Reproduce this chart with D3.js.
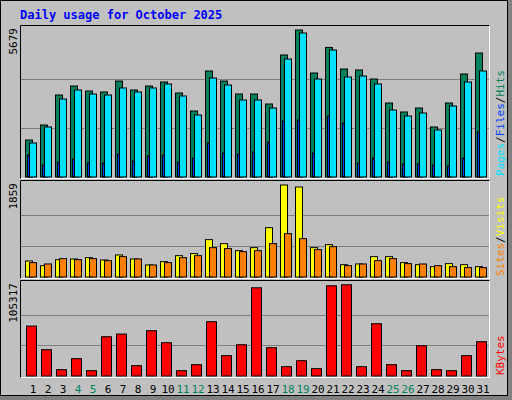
<!DOCTYPE html>
<html>
<head>
<meta charset="utf-8">
<script src="https://cdn.jsdelivr.net/npm/d3@7"></script>
<style>
  body { margin: 0; background: #fff; }
  svg text { font-family: "DejaVu Sans Mono", monospace; }
</style>
</head>
<body>
<svg id="chart"></svg>
<script>
const days = d3.range(1, 32);
const weekend = [4, 5, 11, 12, 18, 19, 25, 26];
const hits = [1429, 2009, 3168, 3515, 3322, 3284, 3708, 3361, 3515, 3670, 3245, 2550, 4095, 3708, 3206, 3206, 2820, 4713, 5679, 4018, 5006, 4172, 4134, 3786, 2859, 2511, 2665, 1932, 2859, 3979, 4790];
const pages = [1313, 1932, 3013, 3361, 3206, 3168, 3438, 3284, 3438, 3593, 3129, 2395, 3824, 3554, 2975, 2975, 2665, 4558, 5563, 3786, 4906, 3863, 3902, 3593, 2588, 2356, 2472, 1816, 2743, 3670, 4095];
const files = [850, 464, 579, 695, 541, 541, 888, 618, 811, 850, 579, 734, 1313, 927, 888, 966, 1352, 2163, 2202, 927, 2356, 2086, 541, 734, 579, 502, 502, 464, 425, 734, 1738];
const visits = [323, 229, 350, 364, 391, 344, 445, 364, 243, 310, 431, 472, 755, 674, 532, 593, 997, 1859, 1819, 593, 654, 249, 263, 411, 411, 290, 249, 209, 270, 249, 209];
const sites = [290, 263, 371, 350, 371, 330, 411, 364, 243, 290, 391, 431, 593, 573, 512, 532, 674, 876, 775, 553, 613, 229, 263, 330, 371, 270, 263, 229, 209, 189, 189];
const kbytes = [57660, 30370, 7300, 19990, 6150, 45360, 48430, 11920, 52280, 38440, 6150, 13070, 62660, 23450, 36130, 101860, 32670, 10760, 17680, 8460, 104170, 105317, 10760, 60350, 13070, 6150, 34980, 7300, 6150, 23450, 39590];

const w = 512, h = 400;
const svg = d3.select("#chart").attr("width", w).attr("height", h);

// frame
svg.append("rect").attr("x", 0).attr("y", 0).attr("width", w).attr("height", h).attr("fill", "#808080");
svg.append("rect").attr("x", 0.5).attr("y", 0.5).attr("width", 507).attr("height", 395)
  .attr("fill", "#c0c0c0").attr("stroke", "#000");
svg.append("text").attr("x", 20).attr("y", 19).attr("fill", "#0000ff")
  .attr("font-size", 12).attr("font-weight", "bold").text("Daily usage for October 2025");

const x = d3.scaleBand().domain(days).range([25, 490]);

const panels = [
  { top: 25, bottom: 179, y: d3.scaleLinear().domain([0, 5679]).range([176.5, 29.5]), max: 5679 },
  { top: 180, bottom: 279, y: d3.scaleLinear().domain([0, 1859]).range([276.5, 184.5]), max: 1859 },
  { top: 280, bottom: 378, y: d3.scaleLinear().domain([0, 105317]).range([375.5, 284.3]), max: 105317 }
];

panels.forEach((p) => {
  svg.append("rect").attr("x", 20.5).attr("y", p.top + 0.5).attr("width", 469).attr("height", p.bottom - p.top - 1)
    .attr("fill", "#c0c0c0").attr("stroke", "#fff");
  svg.append("path").attr("d", `M20.5,${p.bottom - 0.5}V${p.top + 0.5}H489.5`).attr("fill", "none").attr("stroke", "#000");
  [p.max / 3, p.max * 2 / 3].forEach((v) => {
    svg.append("line").attr("x1", 21).attr("x2", 489).attr("y1", Math.round(p.y(v)) + 0.5).attr("y2", Math.round(p.y(v)) + 0.5)
      .attr("stroke", "#808080");
  });
  svg.append("text").attr("transform", `translate(17,${p.top + 3}) rotate(-90)`).attr("text-anchor", "end")
    .attr("font-size", 11).attr("fill", "#000").text(p.max);
});

function bars(data, y, dx, bw, color) {
  svg.append("g").selectAll("rect").data(data).enter().append("rect")
    .attr("x", (d, i) => x(days[i]) + dx + 0.5)
    .attr("y", (d) => y(d) + 0.5)
    .attr("width", bw)
    .attr("height", (d) => y(0) - y(d))
    .attr("fill", color).attr("stroke", "#000");
}
bars(hits, panels[0].y, 0, 7, "#00805c");
bars(pages, panels[0].y, 4, 7, "#00e0ff");
bars(files, panels[0].y, 2, 2, "#0040ff");
bars(visits, panels[1].y, 0, 7, "#ffff00");
bars(sites, panels[1].y, 4, 7, "#ff8000");
bars(kbytes, panels[2].y, 1, 10, "#ff0000");

// day labels
svg.append("g").selectAll("text").data(days).enter().append("text")
  .attr("x", (d) => x(d) + 8).attr("y", 393).attr("text-anchor", "middle").attr("font-size", 11)
  .attr("font-family", "DejaVu Sans")
  .attr("fill", (d) => weekend.includes(d) ? "#00805c" : "#000").text((d) => d);

// right legends
function legend(yBottom, parts) {
  const t = svg.append("text").attr("transform", `translate(504,${yBottom}) rotate(-90)`).attr("font-size", 11);
  parts.forEach(([s, c]) => t.append("tspan").attr("fill", c).text(s));
}
legend(176, [["Pages", "#00e0ff"], ["/", "#000"], ["Files", "#0040ff"], ["/", "#000"], ["Hits", "#00805c"]]);
legend(276, [["Sites", "#ff8000"], ["/", "#000"], ["Visits", "#ffff00"]]);
legend(375, [["KBytes", "#ff0000"]]);
</script>
</body>
</html>
